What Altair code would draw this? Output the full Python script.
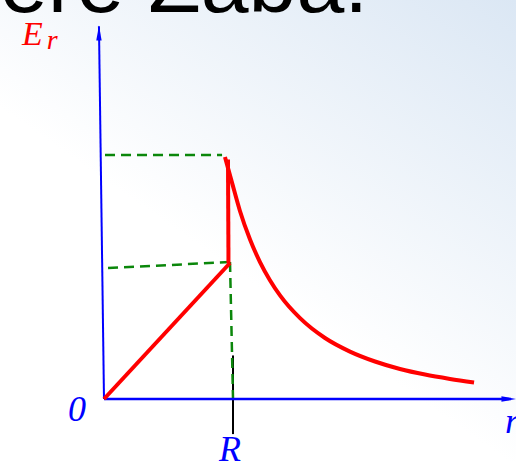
import altair as alt
import pandas as pd

# Field strength of a charged dielectric ball: E_r against r (R = 1 unit)
inner_r = [0.0, 1.0]
inner_E = [0.0, 0.562]

jump_r = [0.988, 0.984]
jump_E = [0.562, 0.99]

outer_r = [0.960, 1.016, 1.079, 1.159, 1.238, 1.317, 1.397, 1.556, 1.754, 1.952, 2.151, 2.349, 2.548, 2.746, 2.937]
outer_E = [1.0, 0.894, 0.777, 0.659, 0.566, 0.491, 0.428, 0.334, 0.252, 0.196, 0.155, 0.124, 0.101, 0.083, 0.068]

# dashed guide lines
guide_top_r = [0.008, 0.937]
guide_top_E = [1.008, 1.008]
guide_mid_r = [0.032, 1.0]
guide_mid_E = [0.541, 0.566]
guide_drop_r = [1.0, 1.024]
guide_drop_E = [0.566, 0.0]

# R marker line
mark_R_r = [1.024, 1.024]
mark_R_E = [0.18, -0.145]

# coordinate axes
y_axis_r = [0.0, -0.040]
y_axis_E = [0.0, 1.54]
x_axis_r = [0.0, 3.23]
x_axis_E = [0.0, 0.0]
arrow_r = [-0.040, 3.214]
arrow_E = [1.512, 0.0]
arrow_shape = ["M-0.36,1L0,-1L0.36,1Z", "M-1,-0.36L1,0L-1,0.36Z"]

labels = ["0", "R", "r"]
label_r = [-0.214, 1.0, 3.183]
label_E = [-0.091, -0.256, -0.140]
label_align = ["center", "center", "left"]

W, H = 516, 462
xs = alt.Scale(domain=[-104 / 126, 412 / 126], nice=False, zero=False)
ys = alt.Scale(domain=[(399 - 462) / 242, 399 / 242], nice=False, zero=False)


def seg(r, e, color, width, dash=None, interp="linear"):
    df = pd.DataFrame({"r": r, "E": e, "i": range(len(r))})
    kw = dict(color=color, strokeWidth=width, interpolate=interp)
    if dash:
        kw["strokeDash"] = dash
    return alt.Chart(df).mark_line(**kw).encode(
        x=alt.X("r:Q", scale=xs, axis=None),
        y=alt.Y("E:Q", scale=ys, axis=None),
        order="i:Q",
    )


background = alt.Chart(pd.DataFrame({"a": [0]})).mark_rect(
    fill=alt.LinearGradient(
        gradient="linear",
        stops=[
            alt.GradientStop(color="#ffffff", offset=0),
            alt.GradientStop(color="#ffffff", offset=0.3),
            alt.GradientStop(color="#dbe7f4", offset=1),
        ],
        x1=0.3, y1=0.9, x2=1, y2=0,
    )
).encode(x=alt.value(0), x2=alt.value(W), y=alt.value(0), y2=alt.value(H))

heading = alt.Chart(pd.DataFrame({"t": ["ere Zaba."]})).mark_text(
    font="Liberation Sans", fontSize=86, align="left", baseline="alphabetic", color="#000000"
).encode(x=alt.value(0), y=alt.value(12), text="t:N")

green = "#0b870b"
guides = (
    seg(guide_top_r, guide_top_E, green, 2.5, [10, 6])
    + seg(guide_mid_r, guide_mid_E, green, 2.5, [10, 6])
    + seg(mark_R_r, mark_R_E, "#000000", 2)
    + seg(guide_drop_r, guide_drop_E, green, 2.5, [10, 6])
)

axes = seg(y_axis_r, y_axis_E, "#0000ff", 2) + seg(x_axis_r, x_axis_E, "#0000ff", 2.5)

arrows = alt.layer(*[
    alt.Chart(pd.DataFrame({"r": [arrow_r[k]], "E": [arrow_E[k]]})).mark_point(
        shape=arrow_shape[k], filled=True, color="#0000ff", size=225, opacity=1
    ).encode(x=alt.X("r:Q", scale=xs, axis=None), y=alt.Y("E:Q", scale=ys, axis=None))
    for k in range(2)
])

field = (
    seg(inner_r, inner_E, "#ff0000", 4)
    + seg(jump_r, jump_E, "#ff0000", 4)
    + seg(outer_r, outer_E, "#ff0000", 4, interp="monotone")
)

axis_labels = alt.layer(*[
    alt.Chart(pd.DataFrame({"r": [label_r[k]], "E": [label_E[k]], "t": [labels[k]]})).mark_text(
        font="Liberation Serif", fontStyle="italic", fontSize=36, color="#0000ff",
        align=label_align[k], baseline="alphabetic"
    ).encode(x=alt.X("r:Q", scale=xs, axis=None), y=alt.Y("E:Q", scale=ys, axis=None), text="t:N")
    for k in range(3)
])

er_main = alt.Chart(pd.DataFrame({"r": [-0.650], "E": [1.462], "t": ["E"]})).mark_text(
    font="Liberation Serif", fontStyle="italic", fontSize=34, color="#ff0000",
    align="left", baseline="alphabetic"
).encode(x=alt.X("r:Q", scale=xs, axis=None), y=alt.Y("E:Q", scale=ys, axis=None), text="t:N")

er_sub = alt.Chart(pd.DataFrame({"r": [-0.455], "E": [1.445], "t": ["r"]})).mark_text(
    font="Liberation Serif", fontStyle="italic", fontSize=28, color="#ff0000",
    align="left", baseline="alphabetic"
).encode(x=alt.X("r:Q", scale=xs, axis=None), y=alt.Y("E:Q", scale=ys, axis=None), text="t:N")

chart = alt.layer(
    background, heading, guides, axes, arrows, field, axis_labels, er_main, er_sub
).properties(
    width=W, height=H, padding=0, autosize=alt.AutoSizeParams(type="none")
).configure_view(strokeWidth=0)

chart.save("out.html", embed_options={"renderer": "svg", "actions": False})
